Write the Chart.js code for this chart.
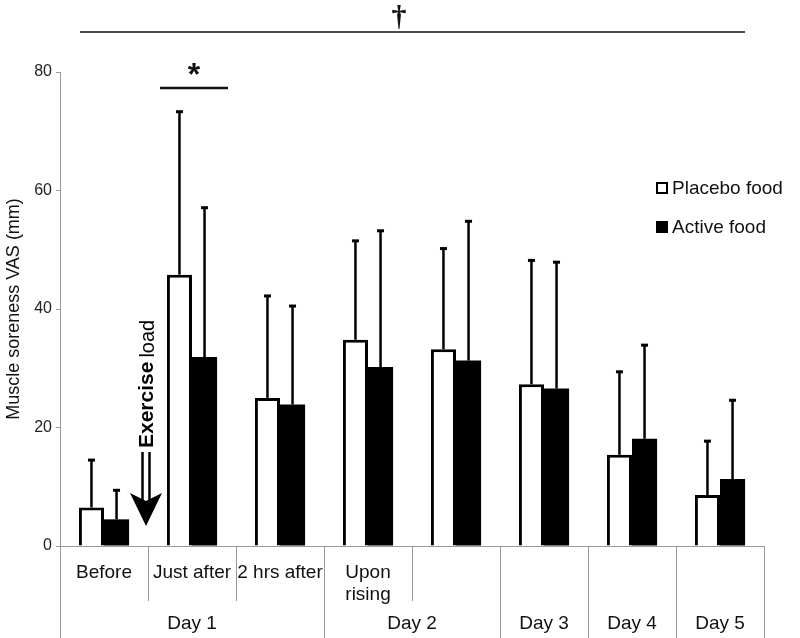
<!DOCTYPE html>
<html>
<head>
<meta charset="utf-8">
<script src="https://cdn.jsdelivr.net/npm/chart.js@4"></script>
<style>
  html, body { margin: 0; padding: 0; background: #fff; }
  #wrap { width: 800px; height: 638px; position: relative; }
</style>
</head>
<body>
<div id="wrap"><canvas id="chart"></canvas></div>
<script>
const categories = ['Before', 'Just after', '2 hrs after', ['Upon', 'rising'], '', '', '', ''];
const dayLabels = ['Day 1', 'Day 2', 'Day 3', 'Day 4', 'Day 5'];
const daySpans = [3, 2, 1, 1, 1];
const yTicks = [0, 20, 40, 60, 80];

const placebo = [6.5, 45.8, 25.0, 34.8, 33.2, 27.3, 15.4, 8.6];
const placeboSD = [8.0, 27.5, 17.2, 16.7, 17.0, 20.9, 14.0, 9.1];
const active = [4.5, 31.9, 23.9, 30.2, 31.3, 26.6, 18.1, 11.3];
const activeSD = [4.9, 25.2, 16.6, 23.0, 23.5, 21.3, 15.8, 13.3];

const sds = [placeboSD, activeSD];
const FONT = '"Liberation Sans", Arial, sans-serif';

// upper error bars
const errorBars = {
    id: 'errorBars',
    afterDatasetsDraw(chart) {
        const ctx = chart.ctx;
        const y = chart.scales.y;
        chart.data.datasets.forEach((ds, i) => {
            chart.getDatasetMeta(i).data.forEach((bar, j) => {
                const top = y.getPixelForValue(ds.data[j] + sds[i][j]);
                ctx.save();
                ctx.strokeStyle = '#000';
                ctx.lineWidth = 2.5;
                ctx.beginPath();
                ctx.moveTo(bar.x, bar.y);
                ctx.lineTo(bar.x, top);
                ctx.stroke();
                ctx.lineWidth = 3;
                ctx.beginPath();
                ctx.moveTo(bar.x - 3.5, top);
                ctx.lineTo(bar.x + 3.5, top);
                ctx.stroke();
                ctx.restore();
            });
        });
    }
};

// category table, day row, legend, marks
const extras = {
    id: 'extras',
    afterDraw(chart) {
        const ctx = chart.ctx;
        const x = chart.scales.x;
        const area = chart.chartArea;
        const n = categories.length;
        const edge = i => i === 0 ? area.left : (i === n ? area.right : (x.getPixelForValue(i - 1) + x.getPixelForValue(i)) / 2);

        ctx.save();
        // separators
        const longs = [0];
        daySpans.reduce((s, d) => { longs.push(s + d); return s + d; }, 0);
        ctx.strokeStyle = '#999';
        ctx.lineWidth = 1;
        for (let i = 0; i <= n; i++) {
            const px = Math.round(edge(i)) + 0.5;
            ctx.beginPath();
            ctx.moveTo(px, area.bottom);
            ctx.lineTo(px, longs.includes(i) ? 638 : 601);
            ctx.stroke();
        }
        // day labels
        ctx.fillStyle = '#111';
        ctx.font = '19px ' + FONT;
        ctx.textAlign = 'center';
        ctx.textBaseline = 'middle';
        let start = 0;
        dayLabels.forEach((d, k) => {
            const cx = (edge(start) + edge(start + daySpans[k])) / 2;
            ctx.fillText(d, cx, 624);
            start += daySpans[k];
        });

        // legend
        ctx.textAlign = 'left';
        ctx.lineWidth = 2;
        ctx.strokeStyle = '#000';
        ctx.strokeRect(657, 183, 10, 10);
        ctx.fillStyle = '#000';
        ctx.fillRect(656, 221, 12, 12);
        ctx.fillStyle = '#111';
        ctx.fillText('Placebo food', 672, 189);
        ctx.fillText('Active food', 672, 228);

        // overall significance line (dagger)
        ctx.strokeStyle = '#111';
        ctx.lineWidth = 1.5;
        ctx.beginPath();
        ctx.moveTo(area.left + 20, 32);
        ctx.lineTo(area.right - 19, 32);
        ctx.stroke();
        ctx.textAlign = 'center';
        ctx.font = 'bold 30px "Liberation Serif", serif';
        ctx.fillText('\u2020', 399, 18);

        // asterisk over "Just after"
        const c1 = x.getPixelForValue(1);
        ctx.lineWidth = 2.5;
        ctx.beginPath();
        ctx.moveTo(c1 - 32, 88);
        ctx.lineTo(c1 + 36, 88);
        ctx.stroke();
        ctx.font = 'bold 32px ' + FONT;
        ctx.fillText('*', c1 + 2, 76);

        // exercise load arrow
        const ax = edge(1) - 2;
        ctx.lineWidth = 2.5;
        ctx.strokeStyle = '#000';
        [-3.5, 3.5].forEach(dx => {
            ctx.beginPath();
            ctx.moveTo(ax + dx, 452);
            ctx.lineTo(ax + dx, 500);
            ctx.stroke();
        });
        ctx.fillStyle = '#000';
        ctx.beginPath();
        ctx.moveTo(ax - 16, 493);
        ctx.lineTo(ax, 501);
        ctx.lineTo(ax + 16, 493);
        ctx.lineTo(ax, 526);
        ctx.closePath();
        ctx.fill();

        ctx.translate(ax + 1, 448);
        ctx.rotate(-Math.PI / 2);
        ctx.textAlign = 'left';
        ctx.textBaseline = 'middle';
        ctx.font = 'bold 21px "Liberation Sans Narrow", "Arial Narrow", ' + FONT;
        ctx.fillText('Exercise', 0, 0);
        const w = ctx.measureText('Exercise').width + 4;
        ctx.font = '20px ' + FONT;
        ctx.fillText('load', w, 1);
        ctx.restore();
    }
};

new Chart(document.getElementById('chart'), {
    type: 'bar',
    data: {
        labels: categories,
        datasets: [{
            label: 'Placebo food',
            data: placebo,
            backgroundColor: '#fff',
            borderColor: '#000',
            borderWidth: 3,
            categoryPercentage: 0.57,
            barPercentage: 1
        }, {
            label: 'Active food',
            data: active,
            backgroundColor: '#000',
            borderColor: '#000',
            borderWidth: 0,
            categoryPercentage: 0.57,
            barPercentage: 1
        }]
    },
    options: {
        responsive: true,
        maintainAspectRatio: false,
        animation: false,
        layout: {
            padding: { top: 72, right: 36, left: 0, bottom: 0 }
        },
        plugins: {
            legend: { display: false },
            tooltip: { enabled: false }
        },
        scales: {
            x: {
                grid: { display: false },
                border: { color: '#999' },
                ticks: {
                    autoSkip: false,
                    maxRotation: 0,
                    padding: 7,
                    color: '#111',
                    font: { family: FONT, size: 19 }
                },
                afterFit(scale) { scale.height = 92; }
            },
            y: {
                min: 0,
                max: 80,
                afterBuildTicks(scale) { scale.ticks = yTicks.map(v => ({ value: v })); },
                grid: { drawOnChartArea: false, tickLength: 4, color: '#999' },
                border: { color: '#999' },
                ticks: {
                    padding: 4,
                    color: '#222',
                    font: { family: FONT, size: 16 }
                },
                title: {
                    display: true,
                    text: 'Muscle soreness VAS (mm)',
                    color: '#111',
                    padding: { top: 3, bottom: 0 },
                    font: { family: FONT, size: 18 }
                },
                afterFit(scale) { scale.width = 60; }
            }
        }
    },
    plugins: [errorBars, extras]
});
</script>
</body>
</html>
